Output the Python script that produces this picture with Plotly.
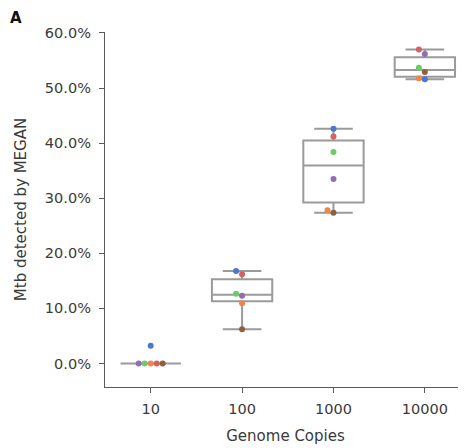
import numpy as np
import plotly.graph_objects as go

# ---- data (percent of reads) ----
categories = ["10", "100", "1000", "10000"]
sample_colors = ["#4878d0", "#ee854a", "#6acc64", "#d65f5f", "#956cb4", "#8c613c"]
vals_10 = [3.2, 0.0, 0.0, 0.0, 0.0, 0.0]
vals_100 = [16.8, 10.95, 12.65, 16.2, 12.3, 6.2]
vals_1000 = [42.6, 27.8, 38.4, 41.2, 33.5, 27.35]
vals_10000 = [51.6, 51.8, 53.7, 57.0, 56.2, 52.9]
yticks = [0, 10, 20, 30, 40, 50, 60]

groups = [vals_10, vals_100, vals_1000, vals_10000]

# ---- layout constants (page has an 8px body margin, so the figure is 8px smaller) ----
W, H = 458, 440
ML, MR, MT, MB = 97, 0, 24, 61
XR = [-0.5, 3.45]
YR = [-4.27, 60.18]
px_x = (W - ML - MR) / (XR[1] - XR[0])
px_y = (H - MT - MB) / (YR[1] - YR[0])
BOX_GRAY = "#9a9a9a"
AX_GRAY = "#5a5a5a"
TXT = "#3a3a3a"
MSIZE = 6.0

fig = go.Figure()

# boxes from data stats
for i, v in enumerate(groups):
    a = np.asarray(v, float)
    q1, med, q3 = np.percentile(a, [25, 50, 75])
    iqr = q3 - q1
    lo = a[a >= q1 - 1.5 * iqr].min()
    hi = a[a <= q3 + 1.5 * iqr].max()
    fig.add_trace(go.Box(
        x=[i], q1=[q1], median=[med], q3=[q3], lowerfence=[lo], upperfence=[hi],
        width=0.66, whiskerwidth=0.64, fillcolor="rgba(0,0,0,0)",
        line=dict(color=BOX_GRAY, width=2), boxpoints=False, hoverinfo="skip",
        showlegend=False))


def swarm(values, center):
    """simple beeswarm: returns x positions (data units) for each value."""
    order = np.argsort(values, kind="stable")
    placed = []
    xs = np.zeros(len(values))
    cands = [0.0]
    for step in range(1, 10):
        cands += [-step * MSIZE, step * MSIZE]
    for idx in order:
        ypx = values[idx] * px_y
        for c in cands:
            if all((c - px) ** 2 + (ypx - py) ** 2 >= (MSIZE * 0.98) ** 2 for px, py in placed):
                placed.append((c, ypx))
                xs[idx] = center + c / px_x
                break
    return xs


for i, v in enumerate(groups):
    xs = swarm(np.asarray(v, float), i)
    fig.add_trace(go.Scatter(
        x=xs, y=v, mode="markers",
        marker=dict(color=sample_colors, size=MSIZE, line=dict(width=0)),
        showlegend=False, hoverinfo="skip"))

tick_font = dict(family="DejaVu Sans", size=14.5, color=TXT)
title_font = dict(family="DejaVu Sans", size=15, color=TXT)
fig.update_layout(
    width=W, height=H, margin=dict(l=ML, r=MR, t=MT, b=MB),
    paper_bgcolor="white", plot_bgcolor="white", font=tick_font,
    xaxis=dict(range=XR, tickvals=list(range(len(categories))), ticktext=categories,
               showgrid=False, zeroline=False, showline=True, linecolor=AX_GRAY,
               linewidth=1.3, ticks="outside", ticklen=5, tickcolor=AX_GRAY, tickwidth=1.3,
               tickfont=tick_font, ticklabelstandoff=3,
               title=dict(text="Genome Copies", font=title_font, standoff=14)),
    yaxis=dict(range=YR, tickvals=yticks, ticktext=[f"{t:.1f}%" for t in yticks],
               showgrid=False, zeroline=False, showline=True, linecolor=AX_GRAY,
               linewidth=1.3, ticks="outside", ticklen=5, tickcolor=AX_GRAY, tickwidth=1.3,
               tickfont=tick_font, ticklabelstandoff=5,
               title=dict(text="Mtb detected by MEGAN", font=title_font, standoff=14)),
    annotations=[dict(text="<b>A</b>", xref="paper", yref="paper",
                      x=(1 - ML) / (W - ML - MR), y=1 + MT / (H - MT - MB),
                      xanchor="left", yanchor="top", showarrow=False, borderpad=0,
                      font=dict(family="DejaVu Sans", size=15, color="#111111"))],
)

fig.write_html("out.html")
